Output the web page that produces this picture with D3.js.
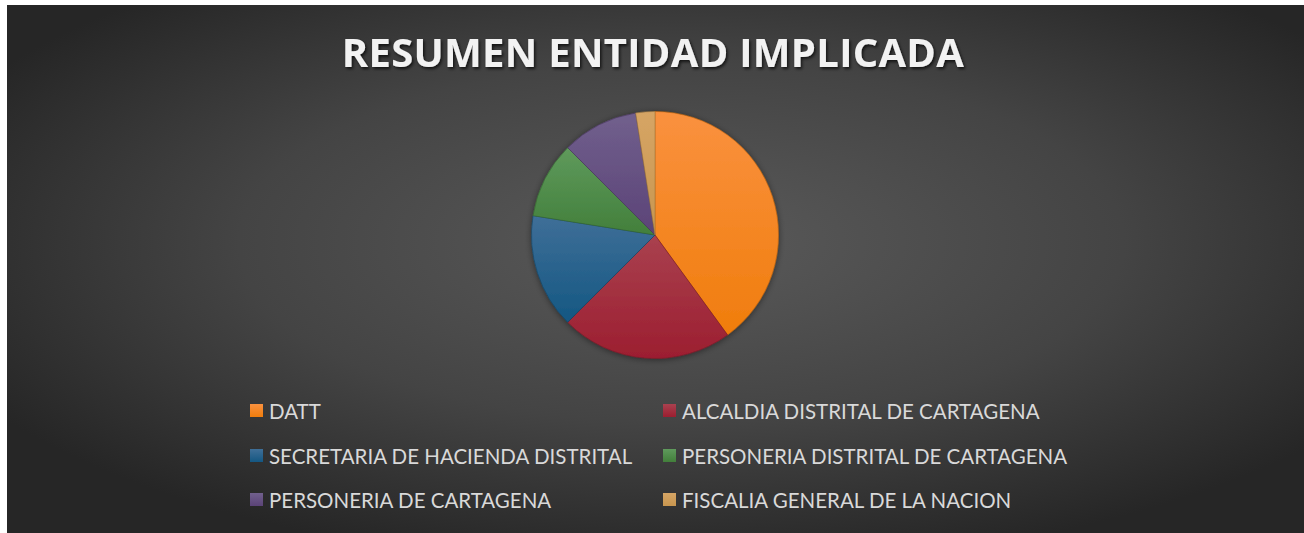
<!DOCTYPE html>
<html>
<head>
<meta charset="utf-8">
<script src="https://cdn.jsdelivr.net/npm/d3@7"></script>
<style>
  body { margin: 0; background: #fff; }
  svg { display: block; }
</style>
</head>
<body>
<svg id="chart"></svg>
<script>
// data
let entidades = ['DATT', 'ALCALDIA DISTRITAL DE CARTAGENA', 'SECRETARIA DE HACIENDA DISTRITAL',
    'PERSONERIA DISTRITAL DE CARTAGENA', 'PERSONERIA DE CARTAGENA', 'FISCALIA GENERAL DE LA NACION']
let casos = [16, 9, 6, 4, 4, 1]
let colores = ['#f07d0c', '#9c1e30', '#145782', '#427f3b', '#5b4377', '#c8964f']
let coloresClaros = ['#fa913f', '#a9414f', '#3f6f98', '#5f9a5c', '#71608d', '#d6a565']

let W = 1304, H = 533
let area = {left: 7, top: 5}
let cx = 655, cy = 235, radio = 123.5

let svg = d3.select('#chart').attr('width', W).attr('height', H)
let defs = svg.append('defs')

// background gradient
let bg = defs.append('radialGradient').attr('id', 'bg')
    .attr('cx', 0.52).attr('cy', 0.45).attr('r', 0.62)
bg.append('stop').attr('offset', '0%').attr('stop-color', '#5a5a5a')
bg.append('stop').attr('offset', '55%').attr('stop-color', '#444444')
bg.append('stop').attr('offset', '100%').attr('stop-color', '#262626')

svg.append('rect')
    .attr('x', area.left).attr('y', area.top)
    .attr('width', W - area.left).attr('height', H - area.top)
    .attr('fill', 'url(#bg)')

// shadows
let sombra = defs.append('filter').attr('id', 'sombra')
    .attr('x', '-20%').attr('y', '-20%').attr('width', '140%').attr('height', '140%')
sombra.append('feDropShadow').attr('dx', 0).attr('dy', 1).attr('stdDeviation', 3)
    .attr('flood-color', '#000').attr('flood-opacity', 0.45)

let sombraTitulo = defs.append('filter').attr('id', 'sombraTitulo')
sombraTitulo.append('feDropShadow').attr('dx', 1.5).attr('dy', 2).attr('stdDeviation', 1.5)
    .attr('flood-color', '#000').attr('flood-opacity', 0.7)

// title
svg.append('text')
    .attr('x', 653).attr('y', 67)
    .attr('text-anchor', 'middle')
    .attr('font-family', 'Open Sans')
    .attr('font-weight', 'bold')
    .attr('font-size', 40)
    .attr('letter-spacing', 0.3)
    .attr('fill', '#f2f2f2')
    .attr('filter', 'url(#sombraTitulo)')
    .text('RESUMEN ENTIDAD IMPLICADA')

// slice gradients
entidades.forEach(function(d, i) {
    let g = defs.append('linearGradient').attr('id', 'grad' + i)
        .attr('x1', 0).attr('y1', 0).attr('x2', 0).attr('y2', 1)
    g.append('stop').attr('offset', '0%').attr('stop-color', coloresClaros[i])
    g.append('stop').attr('offset', '100%').attr('stop-color', colores[i])
})

let datos = entidades.map(function(d, i) { return {nombre: d, valor: casos[i], i: i} })

let pie = d3.pie().sort(null).value(function(d) { return d.valor })
let arc = d3.arc().innerRadius(0).outerRadius(radio)

let pieG = svg.append('g')
    .attr('transform', `translate(${cx}, ${cy})`)
    .attr('filter', 'url(#sombra)')

pieG.selectAll('path')
    .data(pie(datos))
    .enter().append('path')
    .attr('d', arc)
    .attr('fill', function(d) { return 'url(#grad' + d.data.i + ')' })
    .attr('stroke', function(d) { return d3.color(colores[d.data.i]).darker(0.6) })
    .attr('stroke-width', 0.6)

// legend
let colX = [250, 663]
let filaY = [411, 456, 500]

let leyenda = svg.selectAll('.leyenda')
    .data(datos)
    .enter().append('g')
    .attr('class', 'leyenda')
    .attr('transform', function(d) {
        return `translate(${colX[d.i % 2]}, ${filaY[Math.floor(d.i / 2)]})`
    })

leyenda.append('rect')
    .attr('x', 0).attr('y', -7)
    .attr('width', 13).attr('height', 13)
    .attr('fill', function(d) { return 'url(#grad' + d.i + ')' })

leyenda.append('text')
    .attr('x', 19).attr('y', 7.5)
    .attr('font-family', 'Lato')
    .attr('font-size', 20.5)
    .attr('fill', '#d9d9d9')
    .text(function(d) { return d.nombre })
</script>
</body>
</html>
